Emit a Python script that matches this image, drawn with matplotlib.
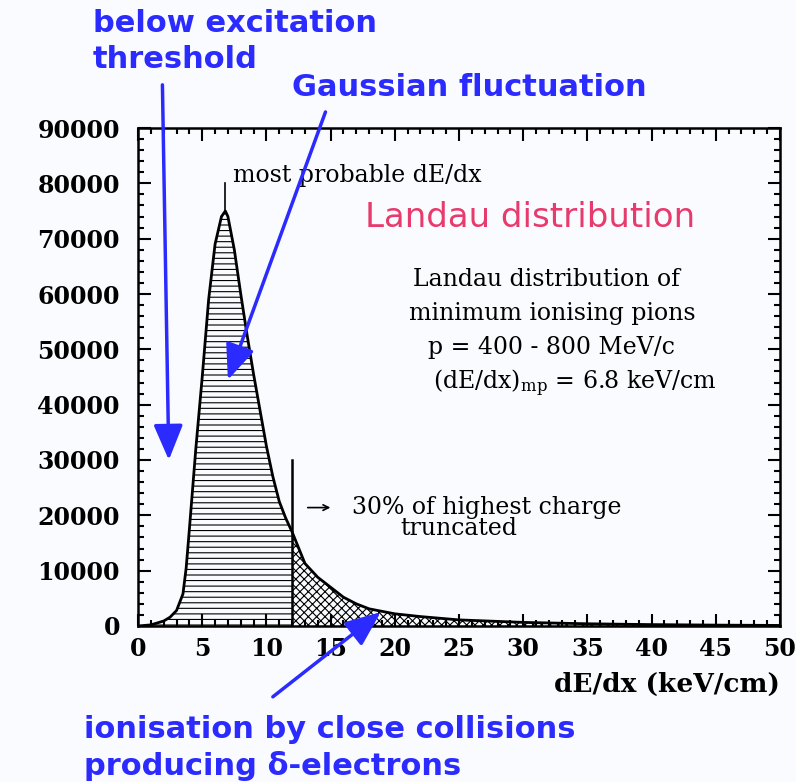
import numpy as np
import matplotlib.pyplot as plt
from matplotlib.ticker import MultipleLocator

# dE/dx (keV/cm) and counts
dedx = [0, 1, 2, 2.5, 3, 3.5, 3.75, 4, 4.5, 5, 5.5, 6, 6.5, 6.8, 7, 7.5, 8,
        8.5, 9, 9.5, 10, 10.5, 11, 11.5, 12, 13, 14, 15, 16, 17, 18, 20, 22,
        25, 30, 35, 40, 45, 50]
counts = [0, 200, 900, 1600, 2800, 5800, 10500, 17500, 32000, 45000, 59000,
          69000, 74000, 75000, 74000, 68000, 60000, 52500, 45500, 39000, 32500,
          27000, 22500, 19500, 17000, 11300, 8800, 7000, 5200, 4000, 3100, 2200,
          1700, 1100, 650, 400, 250, 160, 100]
cut = 12.0          # truncation point
mp_peak = 6.8       # most probable value

blue = '#2b2bff'
pink = '#e83a6c'

plt.rcParams['mathtext.fontset'] = 'dejavuserif'
plt.rcParams['hatch.linewidth'] = 0.8

fig = plt.figure(figsize=(7.96, 7.82), dpi=100, facecolor='#fafbfe')
ax = fig.add_axes([0.1734, 0.1995, 0.8065, 0.6368])
ax.set_facecolor('#fafbfe')

x = np.array(dedx)
y = np.array(counts)
left = x <= cut
right = x >= cut
ax.fill_between(x[left], y[left], color='none', edgecolor='black', hatch='---', lw=0)
ax.fill_between(x[right], y[right], color='none', edgecolor='black', hatch='xxxx', lw=0)
ax.plot(x, y, color='black', lw=2)

ax.plot([mp_peak, mp_peak], [max(counts), 80000], color='black', lw=1.2)
ax.plot([cut, cut], [0, 30000], color='black', lw=1.8)

ax.set_xlim(0, 50)
ax.set_ylim(0, 90000)
ax.xaxis.set_major_locator(MultipleLocator(5))
ax.xaxis.set_minor_locator(MultipleLocator(1))
ax.yaxis.set_major_locator(MultipleLocator(10000))
ax.yaxis.set_minor_locator(MultipleLocator(2000))
ax.tick_params(which='both', direction='in', top=True, right=True, width=1.5)
ax.tick_params(which='major', length=9, pad=8)
ax.tick_params(axis='y', which='major', pad=13)
ax.tick_params(which='minor', length=4.5)
for s in ax.spines.values():
    s.set_linewidth(1.8)
for lab in ax.get_xticklabels() + ax.get_yticklabels():
    lab.set_fontfamily('DejaVu Serif')
    lab.set_fontweight('bold')
    lab.set_fontsize(17)

ax.set_xlabel('dE/dx (keV/cm)', family='DejaVu Serif', weight='bold',
              fontsize=19, loc='right', labelpad=8)

serif = dict(family='DejaVu Serif', fontsize=17, color='black')
ax.text(7.4, 81500, 'most probable dE/dx', va='center', **serif)
ax.text(30.5, 73800, 'Landau distribution', color=pink, fontsize=24.5,
        family='DejaVu Sans', ha='center', va='center')
ax.text(31.8, 62600, 'Landau distribution of', ha='center', va='center', **serif)
ax.text(32.3, 56500, 'minimum ionising pions', ha='center', va='center', **serif)
ax.text(32.2, 50300, 'p = 400 - 800 MeV/c', ha='center', va='center', **serif)
ax.text(34.0, 43900, r'(dE/dx)$_{\mathrm{mp}}$ = 6.8 keV/cm', ha='center',
        va='center', **serif)
ax.text(16.7, 21400, '30% of highest charge', va='center', **serif)
ax.text(25.0, 17600, 'truncated', ha='center', va='center', **serif)
ax.annotate('', xy=(15.2, 21400), xytext=(13.0, 21400),
            arrowprops=dict(arrowstyle='->', color='black', lw=1.2))

sans = dict(family='DejaVu Sans', weight='bold', fontsize=22, color=blue)
fig.text(93 / 796, 1 - 24 / 782, 'below excitation', va='center', **sans)
fig.text(93 / 796, 1 - 60 / 782, 'threshold', va='center', **sans)
fig.text(292 / 796, 1 - 88 / 782, 'Gaussian fluctuation', va='center', **sans)
fig.text(84 / 796, 1 - 730 / 782, 'ionisation by close collisions', va='center', **sans)
fig.text(84 / 796, 1 - 766 / 782, 'producing δ-electrons', va='center', **sans)

arr = dict(arrowstyle='-|>,head_length=1.2,head_width=0.5', color=blue,
           lw=2.5, mutation_scale=18, shrinkA=0, shrinkB=0)
ax.annotate('', xy=(2.4, 30000), xytext=(1.9, 97800), arrowprops=arr,
            annotation_clip=False)
ax.annotate('', xy=(7.0, 44500), xytext=(14.6, 92900), arrowprops=arr,
            annotation_clip=False)
ax.annotate('', xy=(18.9, 2500), xytext=(10.5, -12800), arrowprops=arr,
            annotation_clip=False)

fig.savefig('out.png', dpi=100, facecolor=fig.get_facecolor())
